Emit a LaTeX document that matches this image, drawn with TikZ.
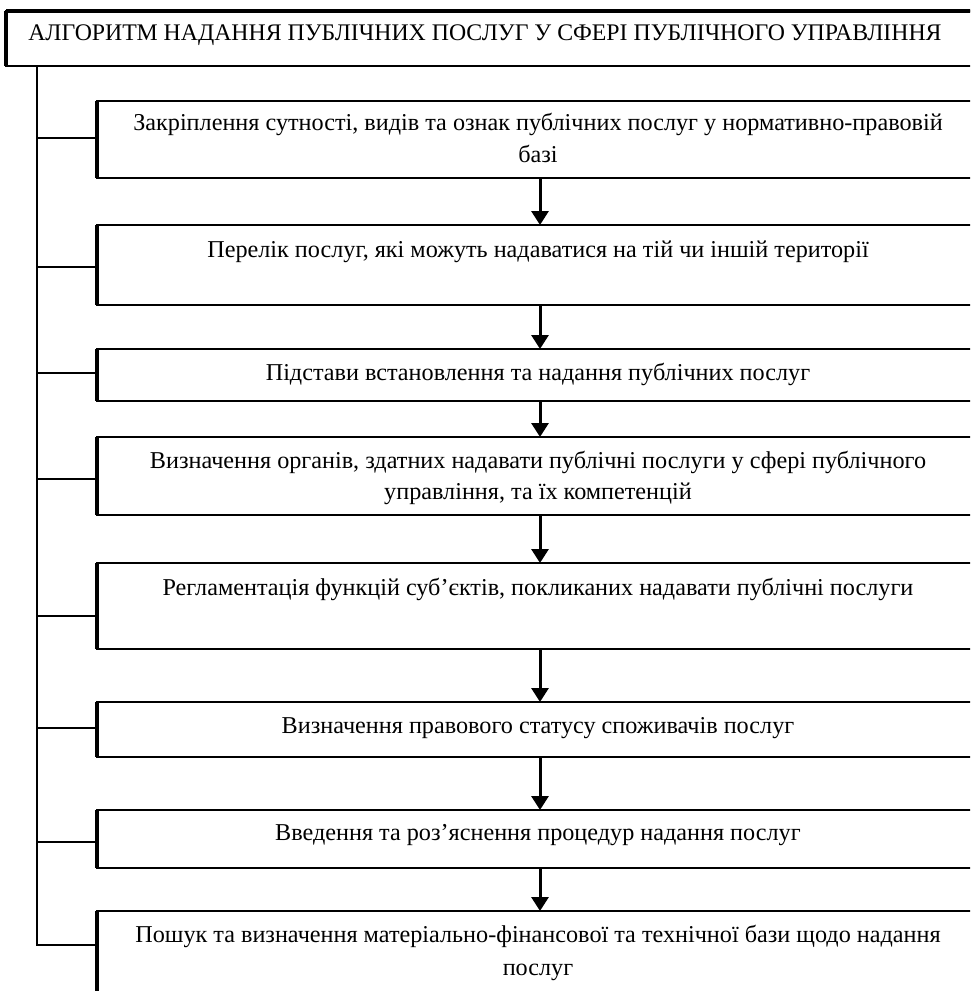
\documentclass[tikz,border=0pt]{standalone}
\usepackage{fontspec}
\setmainfont{Liberation Serif}
\usetikzlibrary{arrows.meta}
\tikzset{
  stepbox/.style={draw, line width=2.6pt, rectangle, anchor=north west, minimum width=903pt, inner sep=0pt, outer sep=0pt},
  leftedge/.style={line width=4pt},
  txt/.style={anchor=base, inner sep=0pt, font=\fontsize{24.2}{28}\selectfont},
  ttxt/.style={anchor=base, inner sep=0pt, font=\fontsize{23.8}{28}\selectfont},
  thinbranch/.style={line width=1.5pt},
  thickbranch/.style={line width=2.8pt},
  trunk/.style={line width=1.8pt},
  arr/.style={line width=3pt, -{Triangle[width=17pt,length=14pt]}}
}
\begin{document}
\begin{tikzpicture}[x=1pt,y=-1pt]
\useasboundingbox (0,0) rectangle (970,991);
\clip (0,0) rectangle (970,991);
% title
\node[stepbox, minimum width=1000pt, minimum height=55pt] (title) at (6,11) {};
\draw[leftedge] (title.north west) -- (title.south west);
\draw[line width=4pt] (title.north west) -- (title.north east);
\node[ttxt] (tt) at (485,40.5) {АЛГОРИТМ НАДАННЯ ПУБЛІЧНИХ ПОСЛУГ У СФЕРІ ПУБЛІЧНОГО УПРАВЛІННЯ};
% boxes
\node[stepbox, minimum height=77pt] (b1) at (97,101) {};
\node[stepbox, minimum height=80pt] (b2) at (97,225) {};
\node[stepbox, minimum height=52pt] (b3) at (97,349) {};
\node[stepbox, minimum height=78pt] (b4) at (97,437) {};
\node[stepbox, minimum height=86pt] (b5) at (97,563) {};
\node[stepbox, minimum height=55pt] (b6) at (97,702) {};
\node[stepbox, minimum height=58pt] (b7) at (97,810) {};
\node[stepbox, minimum height=110pt] (b8) at (97,911) {};
\foreach \b in {b1,b2,b3,b4,b5,b6,b7,b8}
  \draw[leftedge] (\b.north west) -- (\b.south west);
% texts
\node[txt] (x1a) at (538,130) {Закріплення сутності, видів та ознак публічних послуг у нормативно-правовій};
\node[txt] (x1b) at (538,162) {базі};
\node[txt] (x2) at (538,257) {Перелік послуг, які можуть надаватися на тій чи іншій території};
\node[txt] (x3) at (538,380) {Підстави встановлення та надання публічних послуг};
\node[txt] (x4a) at (538,468) {Визначення органів, здатних надавати публічні послуги у сфері публічного};
\node[txt] (x4b) at (538,499) {управління, та їх компетенцій};
\node[txt] (x5) at (538,595) {Регламентація функцій суб’єктів, покликаних надавати публічні послуги};
\node[txt] (x6) at (538,733) {Визначення правового статусу споживачів послуг};
\node[txt] (x7) at (538,840) {Введення та роз’яснення процедур надання послуг};
\node[txt] (x8a) at (538,942) {Пошук та визначення матеріально-фінансової та технічної бази щодо надання};
\node[txt] (x8b) at (538,975) {послуг};
% trunk and branches
\coordinate (t1) at (37,138);
\coordinate (t2) at (37,267);
\coordinate (t3) at (37,373);
\coordinate (t4) at (37,479);
\coordinate (t5) at (37,616);
\coordinate (t6) at (37,728);
\coordinate (t7) at (37,842);
\coordinate (t8) at (37,945);
\draw[trunk] (t8 |- title.south) -- (t8);
\draw[thinbranch] (t1) -- (t1 -| b1.west);
\draw[thickbranch] (t2) -- (t2 -| b2.west);
\draw[thickbranch] (t3) -- (t3 -| b3.west);
\draw[thickbranch] (t4) -- (t4 -| b4.west);
\draw[thickbranch] (t5) -- (t5 -| b5.west);
\draw[thickbranch] (t6) -- (t6 -| b6.west);
\draw[thinbranch] (t7) -- (t7 -| b7.west);
\draw[thickbranch] ([xshift=-0.9pt]t8) -- (t8 -| b8.west);
% arrows
\coordinate (ax) at (540,0);
\draw[arr] (b1.south -| ax) -- (b2.north -| ax);
\draw[arr] (b2.south -| ax) -- (b3.north -| ax);
\draw[arr] (b3.south -| ax) -- (b4.north -| ax);
\draw[arr] (b4.south -| ax) -- (b5.north -| ax);
\draw[arr] (b5.south -| ax) -- (b6.north -| ax);
\draw[arr] (b6.south -| ax) -- (b7.north -| ax);
\draw[arr] (b7.south -| ax) -- (b8.north -| ax);
\end{tikzpicture}
\end{document}
